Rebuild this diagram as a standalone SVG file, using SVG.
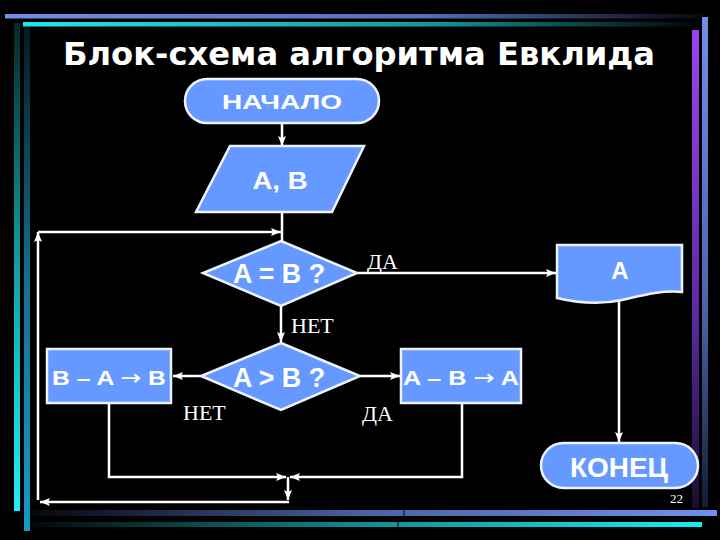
<svg xmlns="http://www.w3.org/2000/svg" width="720" height="540" viewBox="0 0 720 540">
<defs>
<linearGradient id="gTopBlue" x1="0" y1="0" x2="1" y2="0"><stop offset="0" stop-color="#6f8fe8"/><stop offset="0.6" stop-color="#5470b8"/><stop offset="1" stop-color="#05070f"/></linearGradient>
<linearGradient id="gTopCyan" x1="0" y1="0" x2="1" y2="0"><stop offset="0" stop-color="#22e6ea"/><stop offset="0.6" stop-color="#139a9e"/><stop offset="1" stop-color="#030808"/></linearGradient>
<linearGradient id="gBotBlue" x1="0" y1="0" x2="1" y2="0"><stop offset="0" stop-color="#05070f"/><stop offset="0.5" stop-color="#4a64a8"/><stop offset="1" stop-color="#6f90ee"/></linearGradient>
<linearGradient id="gBotCyan" x1="0" y1="0" x2="1" y2="0"><stop offset="0" stop-color="#030808"/><stop offset="0.5" stop-color="#0f8f96"/><stop offset="1" stop-color="#10f0f6"/></linearGradient>
<linearGradient id="gLeftCyan" x1="0" y1="0" x2="0" y2="1"><stop offset="0" stop-color="#062826"/><stop offset="0.5" stop-color="#12a0a8"/><stop offset="1" stop-color="#22eef6"/></linearGradient>
<linearGradient id="gLeftBlue" x1="0" y1="0" x2="0" y2="1"><stop offset="0" stop-color="#061a22"/><stop offset="0.5" stop-color="#13708e"/><stop offset="1" stop-color="#1a98c8"/></linearGradient>
<linearGradient id="gRightPurple" x1="0" y1="0" x2="0" y2="1"><stop offset="0" stop-color="#9a44ec"/><stop offset="0.6" stop-color="#5a2aa0"/><stop offset="1" stop-color="#1a0c30"/></linearGradient>
<linearGradient id="gRightBlue" x1="0" y1="0" x2="0" y2="1"><stop offset="0" stop-color="#6f8fe8"/><stop offset="0.6" stop-color="#4a64a8"/><stop offset="1" stop-color="#141c34"/></linearGradient>
<marker id="arr" markerUnits="userSpaceOnUse" markerWidth="10" markerHeight="8" refX="10" refY="4" orient="auto"><path d="M0,0 L10,4 L0,8 L2,4 Z" fill="#ffffff"/></marker>
<style>
.shape{fill:#6699ff;stroke:#eef2ff;stroke-width:2.5}
.lbl{fill:#ffffff;font-family:"Liberation Sans",Arial,sans-serif;font-weight:bold;text-anchor:middle}
.sym{font-family:"DejaVu Sans",sans-serif;font-weight:normal}
.cond{fill:#ffffff;font-family:"Liberation Serif","Times New Roman",serif;font-size:22px}
.ln{fill:none;stroke:#ffffff;stroke-width:2.5}
</style>
</defs>
<rect x="0" y="0" width="720" height="540" fill="#000000"/>
<g id="decor">
<rect x="5" y="14" width="700" height="4.5" fill="url(#gTopBlue)"/>
<rect x="23" y="22" width="670" height="4.5" fill="url(#gTopCyan)"/>
<rect x="14" y="23" width="6" height="488" fill="url(#gLeftCyan)"/>
<rect x="24" y="27" width="6" height="504" fill="url(#gLeftBlue)"/>
<rect x="692" y="30" width="7" height="478" fill="url(#gRightPurple)"/>
<rect x="702" y="17" width="6" height="490" fill="url(#gRightBlue)"/>
<rect x="30" y="510" width="687" height="6" fill="url(#gBotBlue)"/>
<rect x="30" y="522" width="672" height="5" fill="url(#gBotCyan)"/>
<rect x="403.5" y="510" width="1" height="6" fill="#000"/>
<rect x="397.5" y="522" width="1" height="5" fill="#000"/>
</g>
<text id="title" x="63" y="65" textLength="592" lengthAdjust="spacingAndGlyphs" fill="#ffffff" font-family="'DejaVu Sans','Liberation Sans',sans-serif" font-weight="bold" font-size="32">Блок-схема алгоритма Евклида</text>
<g id="connectors">
<line class="ln" x1="282" y1="123" x2="282" y2="146" marker-end="url(#arr)"/>
<line class="ln" x1="282" y1="212" x2="282" y2="241"/>
<line class="ln" x1="281" y1="306" x2="281" y2="342" marker-end="url(#arr)"/>
<line class="ln" x1="357" y1="273" x2="556" y2="273" marker-end="url(#arr)"/>
<line class="ln" x1="619" y1="301" x2="619" y2="442" marker-end="url(#arr)"/>
<line class="ln" x1="201" y1="376" x2="173" y2="376" marker-end="url(#arr)"/>
<line class="ln" x1="360" y1="376" x2="400" y2="376" marker-end="url(#arr)"/>
<polyline class="ln" points="109,403 109,477 286,477" marker-end="url(#arr)"/>
<polyline class="ln" points="462,403 462,477 290,477" marker-end="url(#arr)"/>
<line class="ln" x1="288" y1="477" x2="288" y2="500" marker-end="url(#arr)"/>
<line class="ln" x1="289" y1="502" x2="40" y2="502" marker-end="url(#arr)"/>
<line class="ln" x1="38" y1="500" x2="38" y2="232" marker-end="url(#arr)"/>
<line class="ln" x1="38" y1="232" x2="281" y2="232" marker-end="url(#arr)"/>
<text class="cond" x="367" y="269">ДА</text>
<text class="cond" x="291" y="333">НЕТ</text>
<text class="cond" x="183" y="420">НЕТ</text>
<text class="cond" x="362" y="421">ДА</text>
</g>
<g id="start">
<rect class="shape" x="185" y="79" width="194" height="44" rx="22" ry="22"/>
<text class="lbl" x="282" y="109" font-size="21" textLength="120" lengthAdjust="spacingAndGlyphs">НАЧАЛО</text>
</g>
<g id="input">
<polygon class="shape" points="230,146 364,146 332,212 196,212"/>
<text class="lbl" x="280" y="189" font-size="24" textLength="55" lengthAdjust="spacingAndGlyphs">A, B</text>
</g>
<g id="cond1">
<polygon class="shape" points="281,241 357,273 281,306 203,273"/>
<text class="lbl" x="279" y="283" font-size="28" textLength="92" lengthAdjust="spacingAndGlyphs">A = B ?</text>
</g>
<g id="output">
<path class="shape" d="M557,245 H682 V292 C660,290 640,296 622,300 C600,305 578,303 557,298 Z"/>
<text class="lbl" x="620" y="279" font-size="24">A</text>
</g>
<g id="cond2">
<polygon class="shape" points="281,343 360,376 281,410 201,376"/>
<text class="lbl" x="279" y="387" font-size="28" textLength="92" lengthAdjust="spacingAndGlyphs">A &gt; B ?</text>
</g>
<g id="stepB">
<rect class="shape" x="47" y="349" width="124" height="54"/>
<text class="lbl" x="109" y="385" font-size="21" textLength="114" lengthAdjust="spacingAndGlyphs">B – A <tspan class="sym">→</tspan> B</text>
</g>
<g id="stepA">
<rect class="shape" x="401" y="349" width="120" height="54"/>
<text class="lbl" x="461" y="385" font-size="21" textLength="116" lengthAdjust="spacingAndGlyphs">A – B <tspan class="sym">→</tspan> A</text>
</g>
<g id="end">
<rect class="shape" x="541" y="443" width="157" height="45" rx="22.5" ry="22.5"/>
<text class="lbl" x="619" y="477" font-size="28" textLength="98" lengthAdjust="spacingAndGlyphs">КОНЕЦ</text>
</g>
<text id="pagenum" x="683" y="503" text-anchor="end" fill="#ffffff" font-family="'Liberation Serif',serif" font-size="13">22</text>
</svg>
